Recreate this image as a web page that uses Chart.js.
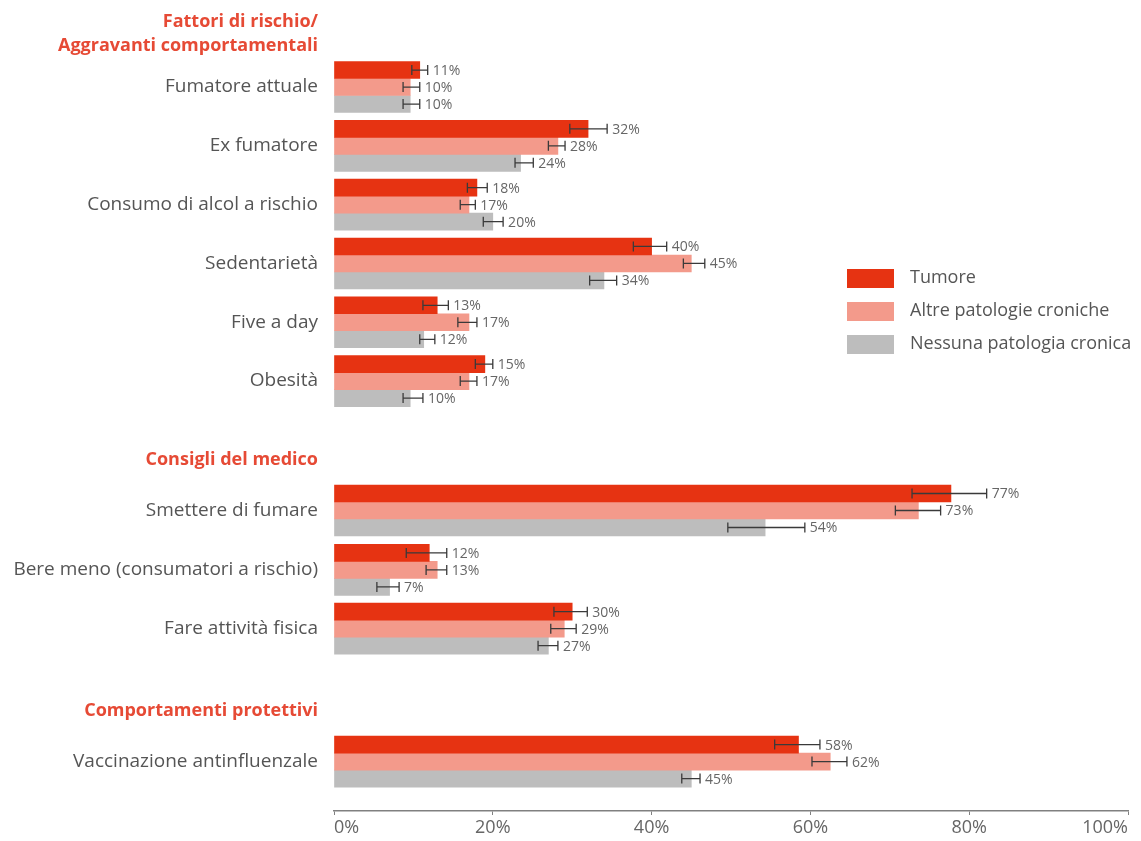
<!DOCTYPE html>
<html lang="it">
<head>
    <meta charset="UTF-8">
    <title>Fattori di rischio e comportamenti</title>
    <script src="https://cdn.jsdelivr.net/npm/chart.js"></script>
    <style>
        body {
            margin: 0;
            background: #ffffff;
        }
        #wrap {
            width: 1141px;
            height: 841px;
        }
    </style>
</head>
<body>
    <div id="wrap">
        <canvas id="riskChart" width="1141" height="841"></canvas>
    </div>

    <script>
        // categories (top to bottom)
        const categories = [
            'Fumatore attuale',
            'Ex fumatore',
            'Consumo di alcol a rischio',
            'Sedentarietà',
            'Five a day',
            'Obesità',
            'Smettere di fumare',
            'Bere meno (consumatori a rischio)',
            'Fare attività fisica',
            'Vaccinazione antinfluenzale'
        ];

        const seriesNames = ['Tumore', 'Altre patologie croniche', 'Nessuna patologia cronica'];

        // bar values (%)
        const tumore  = [10.8, 32, 18, 40, 13, 19, 77.7, 12, 30, 58.5];
        const altre   = [9.6, 28.2, 17, 45, 17, 17, 73.6, 13, 29, 62.5];
        const nessuna = [9.6, 23.5, 20, 34, 11.3, 9.6, 54.3, 7, 27, 45];

        // confidence intervals (%)
        const tumoreLo  = [9.8, 29.7, 16.8, 37.7, 11.2, 17.8, 72.8, 9.1, 27.7, 55.5];
        const tumoreHi  = [11.8, 34.4, 19.3, 41.9, 14.4, 20.0, 82.2, 14.2, 31.9, 61.2];
        const altreLo   = [8.7, 27.0, 15.9, 44.0, 15.6, 15.9, 70.7, 11.6, 27.3, 60.2];
        const altreHi   = [10.8, 29.1, 17.8, 46.7, 18.0, 18.0, 76.4, 14.2, 30.5, 64.6];
        const nessunaLo = [8.7, 22.8, 18.8, 32.2, 10.8, 8.7, 49.6, 5.4, 25.7, 43.8];
        const nessunaHi = [10.8, 25.1, 21.3, 35.6, 12.7, 11.2, 59.3, 8.2, 28.2, 46.1];

        // printed value labels
        const tumoreLbl  = ['11%', '32%', '18%', '40%', '13%', '15%', '77%', '12%', '30%', '58%'];
        const altreLbl   = ['10%', '28%', '17%', '45%', '17%', '17%', '73%', '13%', '29%', '62%'];
        const nessunaLbl = ['10%', '24%', '20%', '34%', '12%', '10%', '54%', '7%', '27%', '45%'];

        // section headers
        const headers = [
            ['Fattori di rischio/', 'Aggravanti comportamentali'],
            'Consigli del medico',
            'Comportamenti protettivi'
        ];

        const xTicks = [0, 20, 40, 60, 80, 100];

        // layout: row positions on the y scale (1 unit = one row)
        const rowPos = [0, 1, 2, 3, 4, 5, 7.2, 8.21, 9.21, 11.47];
        const headerPos = [-0.9, 6.34, 10.61];

        const colors = ['#e63312', '#f39a8b', '#bdbdbd'];
        const RED = '#e64a35';
        const TXT = '#555555';
        const FONT = "'Open Sans', sans-serif";

        // y tick list: headers + categories
        const yTicks = [];
        headers.forEach((h, i) => yTicks.push({ value: headerPos[i], text: h, head: true }));
        categories.forEach((c, i) => yTicks.push({ value: rowPos[i], text: c, head: false }));

        function toPoints(vals) {
            return vals.map((v, i) => ({ x: v, y: rowPos[i] }));
        }

        const datasets = [
            { label: seriesNames[0], data: toPoints(tumore), backgroundColor: colors[0], lo: tumoreLo, hi: tumoreHi, txt: tumoreLbl },
            { label: seriesNames[1], data: toPoints(altre), backgroundColor: colors[1], lo: altreLo, hi: altreHi, txt: altreLbl },
            { label: seriesNames[2], data: toPoints(nessuna), backgroundColor: colors[2], lo: nessunaLo, hi: nessunaHi, txt: nessunaLbl }
        ];

        // error bars + value labels
        const errorBars = {
            id: 'errorBars',
            afterDatasetsDraw(chart) {
                const ctx = chart.ctx;
                const xs = chart.scales.x;
                ctx.save();
                chart.data.datasets.forEach((ds, di) => {
                    const meta = chart.getDatasetMeta(di);
                    meta.data.forEach((bar, j) => {
                        const y = bar.y;
                        const x1 = xs.getPixelForValue(ds.lo[j]);
                        const x2 = xs.getPixelForValue(ds.hi[j]);
                        ctx.strokeStyle = '#3a3a3a';
                        ctx.lineWidth = 1.3;
                        ctx.beginPath();
                        ctx.moveTo(x1, y);
                        ctx.lineTo(x2, y);
                        ctx.moveTo(x1, y - 5);
                        ctx.lineTo(x1, y + 5);
                        ctx.moveTo(x2, y - 5);
                        ctx.lineTo(x2, y + 5);
                        ctx.stroke();

                        ctx.fillStyle = '#666666';
                        ctx.font = "14px " + FONT;
                        ctx.textAlign = 'left';
                        ctx.textBaseline = 'middle';
                        ctx.fillText(ds.txt[j], x2 + 5, y + 1);
                    });
                });
                ctx.restore();
            }
        };

        // legend on the right
        const sideLegend = {
            id: 'sideLegend',
            afterDraw(chart) {
                const ctx = chart.ctx;
                ctx.save();
                chart.data.datasets.forEach((ds, i) => {
                    const top = 269 + i * 33;
                    ctx.fillStyle = ds.backgroundColor;
                    ctx.fillRect(847, top, 47, 19);
                    ctx.fillStyle = TXT;
                    ctx.font = "18px " + FONT;
                    ctx.textAlign = 'left';
                    ctx.textBaseline = 'middle';
                    ctx.fillText(ds.label, 910, top + 9);
                });
                ctx.restore();
            }
        };

        new Chart(document.getElementById('riskChart'), {
            type: 'bar',
            data: { datasets: datasets },
            options: {
                responsive: false,
                animation: false,
                indexAxis: 'y',
                barThickness: 17,
                layout: { padding: { left: 0, right: 13, top: 0, bottom: 0 } },
                plugins: {
                    legend: { display: false },
                    tooltip: { enabled: false }
                },
                scales: {
                    x: {
                        type: 'linear',
                        min: 0,
                        max: 100,
                        afterBuildTicks(scale) {
                            scale.ticks = xTicks.map(v => ({ value: v }));
                        },
                        afterFit(scale) {
                            scale.height = 30;
                            scale.paddingLeft = 0;
                            scale.paddingRight = 0;
                        },
                        border: { display: true, color: '#808080', width: 1.5 },
                        grid: { drawOnChartArea: false, drawTicks: true, tickLength: 4, color: '#808080' },
                        ticks: {
                            align: 'inner',
                            padding: 2,
                            color: '#666666',
                            font: { family: FONT, size: 18 },
                            callback: v => v + '%'
                        }
                    },
                    y: {
                        type: 'linear',
                        reverse: true,
                        offset: false,
                        min: -1.48,
                        max: 12.31,
                        afterBuildTicks(scale) {
                            scale.ticks = yTicks.map(t => ({ value: t.value }));
                        },
                        afterFit(scale) {
                            scale.width = 334;
                            scale.paddingTop = 0;
                            scale.paddingBottom = 0;
                        },
                        border: { display: false },
                        grid: { display: false, drawTicks: false, offset: false },
                        ticks: {
                            autoSkip: false,
                            padding: 16,
                            callback: (v, i) => yTicks[i].text,
                            color: c => (yTicks[c.index] && yTicks[c.index].head) ? RED : TXT,
                            font: c => (yTicks[c.index] && yTicks[c.index].head)
                                ? { family: FONT, size: 18, weight: 'bold', lineHeight: 1.33 }
                                : { family: FONT, size: 19 }
                        }
                    }
                }
            },
            plugins: [errorBars, sideLegend]
        });
    </script>
</body>
</html>
